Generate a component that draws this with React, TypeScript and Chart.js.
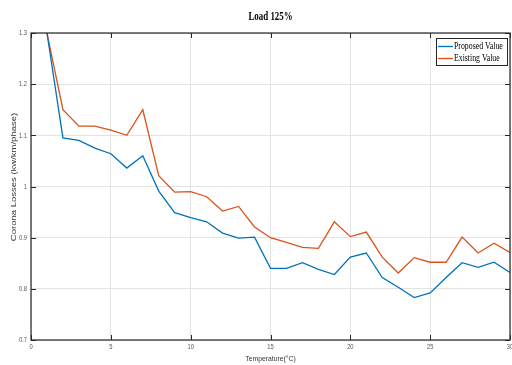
import React, { useEffect, useRef } from "react";
import { Chart, registerables } from "chart.js";
Chart.register(...registerables);

const temps = [1, 2, 3, 4, 5, 6, 7, 8, 9, 10, 11, 12, 13, 14, 15, 16, 17, 18, 19, 20, 21, 22, 23, 24, 25, 26, 27, 28, 29, 30];
const proposed = [1.3, 1.095, 1.09, 1.075, 1.064, 1.036, 1.06, 0.991, 0.949, 0.939, 0.931, 0.909, 0.899, 0.901, 0.84, 0.84, 0.851, 0.838, 0.828, 0.862, 0.87, 0.822, 0.803, 0.783, 0.792, 0.822, 0.851, 0.842, 0.852, 0.832];
const existing = [1.3, 1.15, 1.118, 1.118, 1.11, 1.1, 1.15, 1.021, 0.989, 0.99, 0.98, 0.952, 0.961, 0.921, 0.9, 0.891, 0.881, 0.879, 0.931, 0.902, 0.911, 0.862, 0.831, 0.861, 0.852, 0.852, 0.901, 0.87, 0.889, 0.871];
const xTicks = [0, 5, 10, 15, 20, 25, 30];
const yTicks = [0.7, 0.8, 0.9, 1, 1.1, 1.2, 1.3];
const xTickLabels = ["0", "5", "10", "15", "20", "25", "30"];
const yTickLabels = ["0.7", "0.8", "0.9", "1", "1.1", "1.2", "1.3"];
const seriesNames = ["Proposed Value", "Existing Value"];
const seriesColors = ["#0072BD", "#D95319"];
const titleText = "Load 125%";
const xLabel = "Temperature(\u00B0C)";
const yLabel = "Corona Losses (kw/km/phase)";

function txt(ctx: any, s: string, x: number, y: number, font: string, color: string, align: string, sx: number, rot = 0, sy = 1) {
  ctx.save();
  ctx.translate(x, y);
  if (rot) ctx.rotate(rot);
  ctx.scale(sx, sy);
  ctx.font = font;
  ctx.fillStyle = color;
  ctx.textAlign = align;
  ctx.textBaseline = "middle";
  ctx.fillText(s, 0, 0);
  ctx.restore();
}

const overlay = {
  id: "overlay",
  afterDraw(chart: any) {
    const { ctx, chartArea: a, scales } = chart;
    ctx.save();
    txt(ctx, titleText, (a.left + a.right) / 2, 16.5, "bold 12px 'Liberation Serif'", "#000", "center", 0.74);
    txt(ctx, xLabel, (a.left + a.right) / 2, 358.5, "8px 'Liberation Sans'", "#333", "center", 0.85);
    txt(ctx, yLabel, 13.5, 177, "9.5px 'Liberation Sans'", "#333", "center", 1, -Math.PI / 2, 0.78);
    xTicks.forEach((t, i) => {
      txt(ctx, xTickLabels[i], scales.x.getPixelForValue(t), 346.5, "8px 'Liberation Sans'", "#555", "center", 0.72);
    });
    yTicks.forEach((t, i) => {
      txt(ctx, yTickLabels[i], 27, scales.y.getPixelForValue(t), "8px 'Liberation Sans'", "#555", "right", 0.72);
    });
    ctx.strokeStyle = "#262626";
    ctx.lineWidth = 1;
    ctx.beginPath();
    xTicks.forEach((t) => {
      const x = Math.round(scales.x.getPixelForValue(t)) + 0.5;
      ctx.moveTo(x, a.top); ctx.lineTo(x, a.top + 5);
      ctx.moveTo(x, a.bottom); ctx.lineTo(x, a.bottom - 5);
    });
    yTicks.forEach((t) => {
      const y = Math.round(scales.y.getPixelForValue(t)) + 0.5;
      ctx.moveTo(a.left, y); ctx.lineTo(a.left + 5, y);
      ctx.moveTo(a.right, y); ctx.lineTo(a.right - 5, y);
    });
    ctx.stroke();
    ctx.strokeStyle = "#262626";
    ctx.lineWidth = 1.2;
    ctx.strokeRect(a.left, a.top, a.right - a.left, a.bottom - a.top);
    const lx = 436, ly = 38, lw = 71, lh = 27;
    ctx.fillStyle = "#fff";
    ctx.fillRect(lx, ly, lw, lh);
    ctx.strokeStyle = "#262626";
    ctx.lineWidth = 1;
    ctx.strokeRect(lx + 0.5, ly + 0.5, lw, lh);
    seriesNames.forEach((n, i) => {
      const yy = ly + 8.5 + i * 12;
      ctx.strokeStyle = seriesColors[i];
      ctx.lineWidth = 1.3;
      ctx.beginPath();
      ctx.moveTo(lx + 2, yy); ctx.lineTo(lx + 17, yy);
      ctx.stroke();
      txt(ctx, n, lx + 18, yy, "10px 'Liberation Serif'", "#000", "left", 0.78);
    });
    ctx.restore();
  },
};

export default function App() {
  const ref = useRef<HTMLCanvasElement>(null);
  useEffect(() => {
    const chart = new Chart(ref.current!, {
      type: "line",
      data: {
        datasets: [
          { label: seriesNames[0], data: temps.map((t, i) => ({ x: t, y: proposed[i] })), borderColor: seriesColors[0], borderWidth: 1.3, pointRadius: 0, tension: 0 },
          { label: seriesNames[1], data: temps.map((t, i) => ({ x: t, y: existing[i] })), borderColor: seriesColors[1], borderWidth: 1.3, pointRadius: 0, tension: 0 },
        ],
      },
      options: {
        animation: false,
        responsive: false,
        layout: { padding: { top: 33, right: 2, left: 0, bottom: 0 } },
        plugins: { legend: { display: false }, title: { display: false }, tooltip: { enabled: false } },
        scales: {
          x: {
            type: "linear",
            min: 0,
            max: 30,
            afterBuildTicks: (s: any) => { s.ticks = xTicks.map((v) => ({ value: v })); },
            afterFit: (s: any) => { s.height = 25; s.paddingLeft = 0; s.paddingRight = 0; },
            ticks: { display: false },
            grid: { color: "#e3e3e3", lineWidth: 1, drawTicks: false },
            border: { display: false },
            title: { display: false },
          },
          y: {
            type: "linear",
            min: 0.7,
            max: 1.3,
            afterBuildTicks: (s: any) => { s.ticks = yTicks.map((v) => ({ value: v })); },
            afterFit: (s: any) => { s.width = 31; s.paddingTop = 0; s.paddingBottom = 0; },
            ticks: { display: false },
            grid: { color: "#e3e3e3", lineWidth: 1, drawTicks: false },
            border: { display: false },
            title: { display: false },
          },
        },
      },
      plugins: [overlay],
    } as any);
    return () => chart.destroy();
  }, []);
  return (
    <div style={{ position: "fixed", left: 0, top: 0, width: 512, height: 365, background: "#fff" }}>
      <canvas ref={ref} width={512} height={365} style={{ display: "block" }} />
    </div>
  );
}
